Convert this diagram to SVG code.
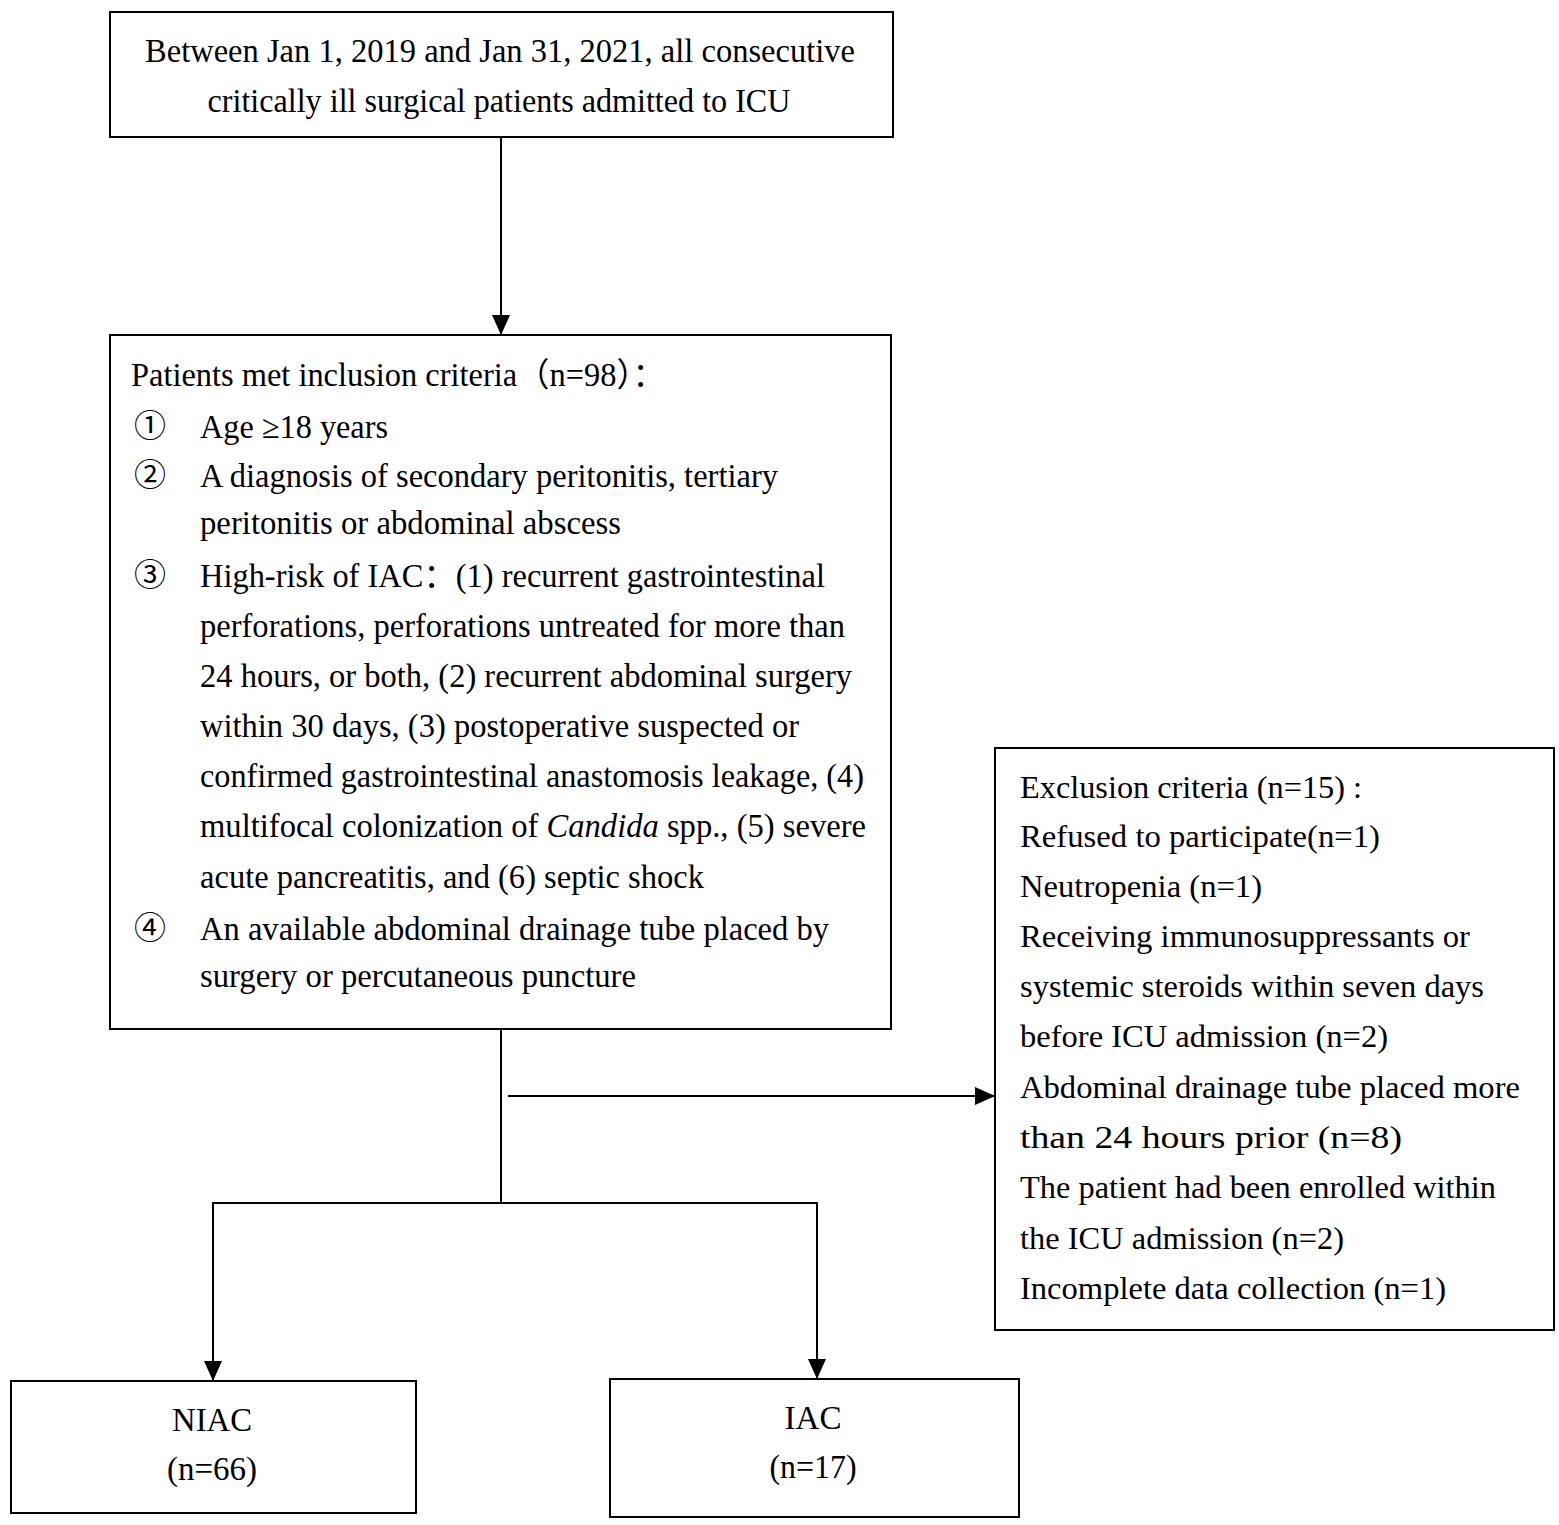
<svg xmlns="http://www.w3.org/2000/svg" width="1559" height="1525" viewBox="0 0 1559 1525">
<defs>
<style>
.box{fill:#fff;stroke:#000;stroke-width:2}
.t{font-family:'Liberation Serif','Noto Sans CJK SC',serif;font-size:33px;fill:#000}
.e{font-family:'Liberation Serif','Noto Sans CJK SC',serif;font-size:31px;fill:#000}
.c{font-family:'Noto Sans CJK SC','DejaVu Sans',sans-serif;font-size:32px;fill:#000}
.ln{fill:none;stroke:#000;stroke-width:2}
</style>
<marker id="ah" markerUnits="userSpaceOnUse" markerWidth="22" markerHeight="20" refX="20" refY="9" orient="auto">
<path d="M0,0 L20,9 L0,18 Z" fill="#000"/>
</marker>
</defs>
<rect width="1559" height="1525" fill="#fff"/>

<g id="start">
<rect class="box" x="110" y="12" width="783" height="125"/>
<text class="t" x="500" y="62" text-anchor="middle" textLength="710" lengthAdjust="spacingAndGlyphs">Between Jan 1, 2019 and Jan 31, 2021, all consecutive</text>
<text class="t" x="499" y="112" text-anchor="middle" textLength="583" lengthAdjust="spacingAndGlyphs">critically ill surgical patients admitted to ICU</text>
</g>

<g id="inclusion">
<rect class="box" x="110" y="335" width="781" height="694"/>
<text class="t" x="131" y="386" textLength="534" lengthAdjust="spacingAndGlyphs">Patients met inclusion criteria（n=98）：</text>
<text class="c" x="150" y="437" text-anchor="middle">①</text>
<text class="t" x="200" y="438" textLength="188" lengthAdjust="spacingAndGlyphs">Age ≥18 years</text>
<text class="c" x="150" y="486" text-anchor="middle">②</text>
<text class="t" x="200" y="487" textLength="578" lengthAdjust="spacingAndGlyphs">A diagnosis of secondary peritonitis, tertiary</text>
<text class="t" x="200" y="534" textLength="421" lengthAdjust="spacingAndGlyphs">peritonitis or abdominal abscess</text>
<text class="c" x="150" y="586" text-anchor="middle">③</text>
<text class="t" x="200" y="587" textLength="625" lengthAdjust="spacingAndGlyphs">High-risk of IAC：(1) recurrent gastrointestinal</text>
<text class="t" x="200" y="637" textLength="645" lengthAdjust="spacingAndGlyphs">perforations, perforations untreated for more than</text>
<text class="t" x="200" y="687" textLength="652" lengthAdjust="spacingAndGlyphs">24 hours, or both, (2) recurrent abdominal surgery</text>
<text class="t" x="200" y="737" textLength="599" lengthAdjust="spacingAndGlyphs">within 30 days, (3) postoperative suspected or</text>
<text class="t" x="200" y="787" textLength="664" lengthAdjust="spacingAndGlyphs">confirmed gastrointestinal anastomosis leakage, (4)</text>
<text class="t" x="200" y="837" textLength="666" lengthAdjust="spacingAndGlyphs">multifocal colonization of <tspan font-style="italic">Candida</tspan> spp., (5) severe</text>
<text class="t" x="200" y="888" textLength="504" lengthAdjust="spacingAndGlyphs">acute pancreatitis, and (6) septic shock</text>
<text class="c" x="150" y="939" text-anchor="middle">④</text>
<text class="t" x="200" y="940" textLength="629" lengthAdjust="spacingAndGlyphs">An available abdominal drainage tube placed by</text>
<text class="t" x="200" y="987" textLength="436" lengthAdjust="spacingAndGlyphs">surgery or percutaneous puncture</text>
</g>

<g id="exclusion">
<rect class="box" x="995" y="748" width="559" height="582"/>
<text class="e" x="1020" y="798" textLength="342" lengthAdjust="spacingAndGlyphs">Exclusion criteria (n=15) :</text>
<text class="e" x="1020" y="847" textLength="360" lengthAdjust="spacingAndGlyphs">Refused to participate(n=1)</text>
<text class="e" x="1020" y="897" textLength="242" lengthAdjust="spacingAndGlyphs">Neutropenia (n=1)</text>
<text class="e" x="1020" y="947" textLength="450" lengthAdjust="spacingAndGlyphs">Receiving immunosuppressants or</text>
<text class="e" x="1020" y="997" textLength="464" lengthAdjust="spacingAndGlyphs">systemic steroids within seven days</text>
<text class="e" x="1020" y="1047" textLength="368" lengthAdjust="spacingAndGlyphs">before ICU admission (n=2)</text>
<text class="e" x="1020" y="1098" textLength="500" lengthAdjust="spacingAndGlyphs">Abdominal drainage tube placed more</text>
<text class="e" x="1020" y="1148" textLength="382" lengthAdjust="spacingAndGlyphs">than 24 hours prior (n=8)</text>
<text class="e" x="1020" y="1198" textLength="476" lengthAdjust="spacingAndGlyphs">The patient had been enrolled within</text>
<text class="e" x="1020" y="1249" textLength="324" lengthAdjust="spacingAndGlyphs">the ICU admission (n=2)</text>
<text class="e" x="1020" y="1299" textLength="426" lengthAdjust="spacingAndGlyphs">Incomplete data collection (n=1)</text>
</g>

<g id="niac">
<rect class="box" x="11" y="1381" width="405" height="132"/>
<text class="t" x="212" y="1431" text-anchor="middle" textLength="80" lengthAdjust="spacingAndGlyphs">NIAC</text>
<text class="t" x="212" y="1480" text-anchor="middle" textLength="90" lengthAdjust="spacingAndGlyphs">(n=66)</text>
</g>

<g id="iac">
<rect class="box" x="610" y="1379" width="409" height="138"/>
<text class="t" x="813" y="1429" text-anchor="middle" textLength="57" lengthAdjust="spacingAndGlyphs">IAC</text>
<text class="t" x="813" y="1478" text-anchor="middle" textLength="87" lengthAdjust="spacingAndGlyphs">(n=17)</text>
</g>

<g id="connectors">
<line class="ln" x1="501" y1="137" x2="501" y2="335" marker-end="url(#ah)"/>
<polyline class="ln" points="501,1029 501,1203"/>
<polyline class="ln" points="501,1203 213,1203 213,1381" marker-end="url(#ah)"/>
<polyline class="ln" points="501,1203 817,1203 817,1379" marker-end="url(#ah)"/>
<line class="ln" x1="508" y1="1096" x2="995" y2="1096" marker-end="url(#ah)"/>
</g>
</svg>
